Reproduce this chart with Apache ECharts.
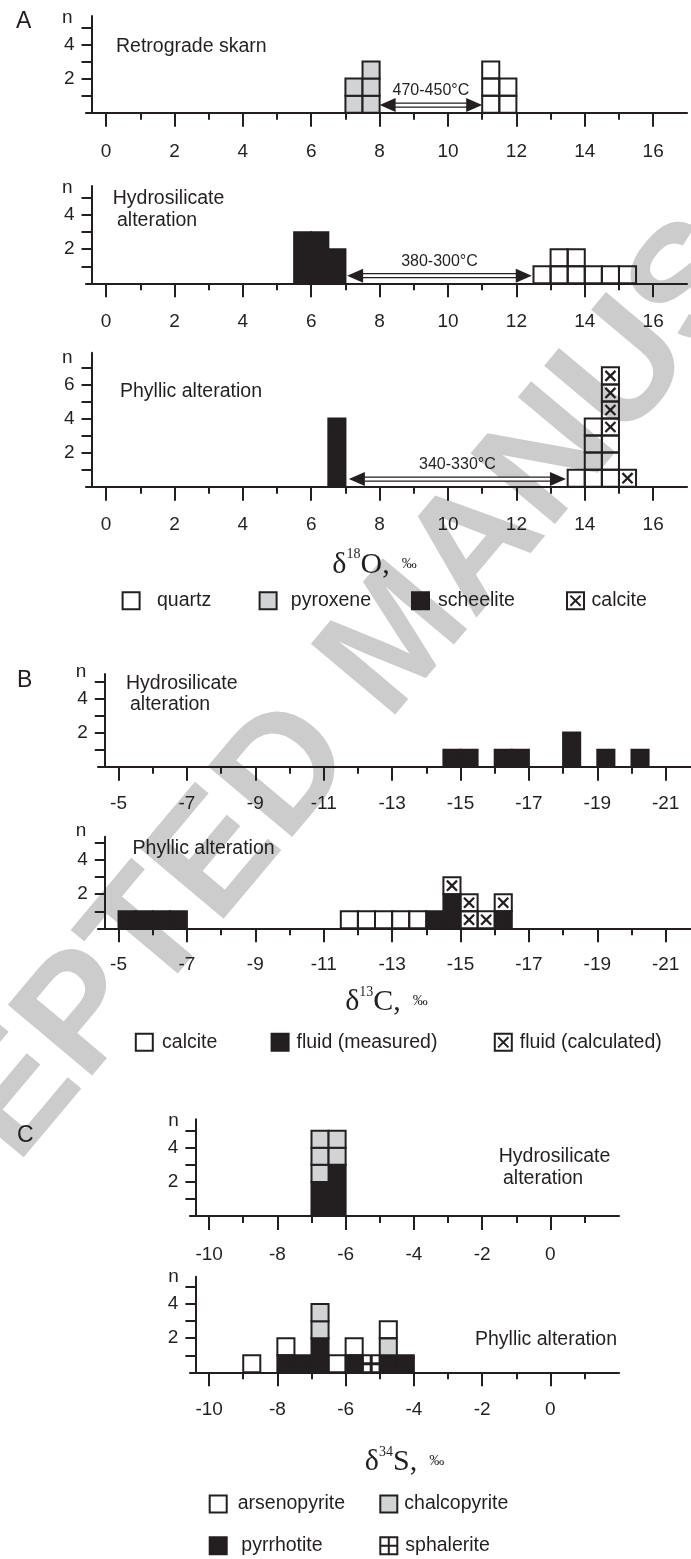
<!DOCTYPE html>
<html><head><meta charset="utf-8">
<script src="https://cdn.jsdelivr.net/npm/echarts@6/dist/echarts.min.js"></script>
<style>html,body{margin:0;padding:0;background:#fff}#c{width:691px;height:1559px}</style>
</head><body><div id="c"></div>
<script>
// ================= DATA =================
// Histogram bins are 0.5 ‰ wide; each item = [bin centre, count]
// ---- A: δ18O ----
const A_major = [0, 2, 4, 6, 8, 10, 12, 14, 16];
const A_minor = [1, 3, 5, 7, 9, 11, 13, 15];
// Retrograde skarn
const A1_pyroxene = [[7.25, 2], [7.75, 3]];
const A1_quartz = [[11.25, 3], [11.75, 2]];
const A1_arrow = [[8, 11]];
const A1_arrowLabel = ['470-450°C'];
// Hydrosilicate alteration
const A2_scheelite = [[5.75, 3], [6.25, 3], [6.75, 2]];
const A2_quartz = [[12.75, 1], [13.25, 2], [13.75, 2], [14.25, 1], [14.75, 1], [15.25, 1]];
const A2_arrow = [[7.05, 12.45]];
const A2_arrowLabel = ['380-300°C'];
// Phyllic alteration
const A3_scheelite = [[6.75, 4]];
const A3_quartz = [[13.75, 1], [14.25, 4], [14.75, 3]];
const A3_calcite = [[14.75, 4], [15.25, 1]];
const A3_arrow = [[7.1, 13.45]];
const A3_arrowLabel = ['340-330°C'];
// ---- B: δ13C ----
const B_major = [-5, -7, -9, -11, -13, -15, -17, -19, -21];
const B_minor = [-6, -8, -10, -12, -14, -16, -18, -20];
const B1_fluidMeasured = [[-14.75, 1], [-15.25, 1], [-16.25, 1], [-16.75, 1], [-18.25, 2], [-19.25, 1], [-20.25, 1]];
const B2_calcite = [[-11.75, 1], [-12.25, 1], [-12.75, 1], [-13.25, 1], [-13.75, 1]];
const B2_fluidMeasured = [[-5.25, 1], [-5.75, 1], [-6.25, 1], [-6.75, 1], [-14.25, 1], [-14.75, 2], [-16.25, 1]];
const B2_fluidCalculated = [[-14.75, 1], [-15.25, 2], [-15.75, 1], [-16.25, 1]];
// ---- C: δ34S ----
const C_major = [-10, -8, -6, -4, -2, 0];
const C_minor = [-9, -7, -5, -3, -1, 1];
const C1_pyrrhotite = [[-6.75, 2], [-6.25, 3]];
const C1_chalcopyrite = [[-6.75, 3], [-6.25, 2]];
const C2_pyrrhotite = [[-7.75, 1], [-7.25, 1], [-6.75, 2], [-5.75, 1], [-4.75, 1], [-4.25, 1]];
const C2_chalcopyrite = [[-6.75, 2], [-4.75, 1]];
const C2_arsenopyrite = [[-8.75, 1], [-7.75, 1], [-6.25, 1], [-5.75, 1], [-4.75, 1]];
const C2_sphalerite = [[-5.25, 1]];
// y tick values / labels
const Y_ticks5 = [1, 2, 3, 4, 5];
const Y_ticks7 = [1, 2, 3, 4, 5, 6, 7];
const Y_labels5 = [2, 4];
const Y_labels7 = [2, 4, 6];

// ================= STYLE / LAYOUT =================
const FONT = "'Liberation Sans', Arial, Helvetica, sans-serif";
const SERIF = "'Liberation Serif', 'Times New Roman', serif";
const INK = '#231f20';
const GRAY = '#d1d3d4';
const PX = 17.05;   // pixels per count
const W = 0.5;      // bin width
const ARROW_Y = 0.45;

const panels = [
  { g: [86, 16, 601, 96.7], xr: [-0.588, 16.99], inv: false, yx: 91.5, major: A_major, minor: A_minor,
    yt: Y_ticks5, yl: Y_labels5, nGap: -2, nPad: 19, margin: 30,
    series: [['pyroxene', A1_pyroxene, 'gray'], ['quartz', A1_quartz, 'white']],
    arrow: [A1_arrow, A1_arrowLabel] },
  { g: [86, 186, 601, 97.3], xr: [-0.588, 16.99], inv: false, yx: 91.5, major: A_major, minor: A_minor,
    yt: Y_ticks5, yl: Y_labels5, nGap: -2, nPad: 19, margin: 29,
    series: [['scheelite', A2_scheelite, 'black'], ['quartz', A2_quartz, 'white']],
    arrow: [A2_arrow, A2_arrowLabel] },
  { g: [86, 352.7, 601, 134], xr: [-0.588, 16.99], inv: false, yx: 91.5, major: A_major, minor: A_minor,
    yt: Y_ticks7, yl: Y_labels7, nGap: -5, nPad: 19, margin: 29,
    series: [['scheelite', A3_scheelite, 'black'], ['quartz', A3_quartz, 'white'], ['calcite', A3_calcite, 'cross']],
    arrow: [A3_arrow, A3_arrowLabel],
    title: { main: 'O,', sup: '18', gap: 61, shift: 24 } },
  { g: [98, 674, 593, 92.7], xr: [-21.74, -4.40], inv: true, yx: 104.8, major: B_major, minor: B_minor,
    yt: Y_ticks5, yl: Y_labels5, nGap: 2, nPad: 18.5, margin: 28,
    series: [['fluid (measured)', B1_fluidMeasured, 'black']] },
  { g: [98, 836.7, 593, 91.6], xr: [-21.74, -4.40], inv: true, yx: 104.8, major: B_major, minor: B_minor,
    yt: Y_ticks5, yl: Y_labels5, nGap: 6, nPad: 18.5, margin: 27,
    series: [['calcite', B2_calcite, 'white'], ['fluid (measured)', B2_fluidMeasured, 'black'], ['fluid (calculated)', B2_fluidCalculated, 'cross']],
    title: { main: 'C,', sup: '13', gap: 57, shift: 16 } },
  { g: [190, 1119.3, 429, 96.7], xr: [-10.56, 2.01], inv: false, yx: 195.4, major: C_major, minor: C_minor,
    yt: Y_ticks5, yl: Y_labels5, nGap: -1, nPad: 16.5, margin: 29,
    series: [['pyrrhotite', C1_pyrrhotite, 'black'], ['chalcopyrite', C1_chalcopyrite, 'gray']] },
  { g: [190, 1276.7, 429, 95.6], xr: [-10.56, 2.01], inv: false, yx: 195.4, major: C_major, minor: C_minor,
    yt: Y_ticks5, yl: Y_labels5, nGap: 0, nPad: 16.5, margin: 28,
    series: [['pyrrhotite', C2_pyrrhotite, 'black'], ['chalcopyrite', C2_chalcopyrite, 'gray'], ['arsenopyrite', C2_arsenopyrite, 'white'], ['sphalerite', C2_sphalerite, 'plus']],
    title: { main: 'S,', sup: '34', gap: 73, shift: 0 } }
];

// text annotations (panel labels and subplot captions)
const annotations = [
  ['A', 16, 22, 23], ['B', 17, 681, 23], ['C', 17, 1136, 23],
  ['Retrograde skarn', 116, 47, 19.5],
  ['Hydrosilicate', 112.7, 199, 19.5], ['alteration', 117, 221, 19.5],
  ['Phyllic alteration', 120, 392, 19.5],
  ['Hydrosilicate', 126, 684, 19.5], ['alteration', 130, 705, 19.5],
  ['Phyllic alteration', 132.6, 848.5, 19.5],
  ['Hydrosilicate', 498.7, 1157, 19.5], ['alteration', 503, 1178.5, 19.5],
  ['Phyllic alteration', 475, 1340, 19.5]
];

// legend entries: name, symbol style, icon left, row centre y, icon-text gap
const legendSpec = [
  ['quartz', 'white', 121.6, 601.7, 17.4], ['pyroxene', 'gray', 258.6, 601.7, 14.2],
  ['scheelite', 'black', 411, 601.7, 9], ['calcite', 'cross', 566, 601.7, 7.6],
  ['calcite', 'white', 134.8, 1043.3, 9.3], ['fluid (measured)', 'black', 270.6, 1043.3, 7.9],
  ['fluid (calculated)', 'cross', 493.8, 1043.3, 8],
  ['arsenopyrite', 'white', 208.7, 1505, 11], ['chalcopyrite', 'gray', 379.3, 1505, 7],
  ['pyrrhotite', 'black', 208.7, 1546.7, 14.6], ['sphalerite', 'plus', 379.3, 1546.7, 8]
];

// ================= BUILD =================
function cellRender(style) {
  return function (params, api) {
    const c = api.value(0), n = api.value(1), b = api.value(2);
    const box = (lo, hi) => {
      const p = api.coord([c - W / 2, hi]), q = api.coord([c + W / 2, lo]);
      return { x: Math.min(p[0], q[0]), y: Math.min(p[1], q[1]), width: Math.abs(q[0] - p[0]), height: Math.abs(q[1] - p[1]) };
    };
    const kids = [];
    if (style === 'black') {
      kids.push({ type: 'rect', shape: box(b, b + n), style: { fill: INK, stroke: INK, lineWidth: 2 } });
    } else {
      for (let i = 0; i < n; i++) {
        const r = box(b + i, b + i + 1);
        kids.push({ type: 'rect', shape: r, style: { fill: style === 'gray' ? GRAY : 'rgba(255,255,255,0)', stroke: INK, lineWidth: 2 } });
        if (style === 'cross') {
          const m = 3.5;
          kids.push({ type: 'line', shape: { x1: r.x + m, y1: r.y + m, x2: r.x + r.width - m, y2: r.y + r.height - m }, style: { stroke: INK, lineWidth: 2.3 } });
          kids.push({ type: 'line', shape: { x1: r.x + r.width - m, y1: r.y + m, x2: r.x + m, y2: r.y + r.height - m }, style: { stroke: INK, lineWidth: 2.3 } });
        } else if (style === 'plus') {
          const cx = r.x + r.width / 2, cy = r.y + r.height / 2;
          kids.push({ type: 'line', shape: { x1: cx, y1: r.y, x2: cx, y2: r.y + r.height }, style: { stroke: INK, lineWidth: 3 } });
          kids.push({ type: 'line', shape: { x1: r.x, y1: cy, x2: r.x + r.width, y2: cy }, style: { stroke: INK, lineWidth: 3 } });
        }
      }
    }
    return { type: 'group', children: kids };
  };
}

function arrowRender(labels) {
  return function (params, api) {
    const p = api.coord([api.value(0), ARROW_Y]), q = api.coord([api.value(1), ARROW_Y]);
    const y = p[1], L = 16, H = 7;
    const a = Math.min(p[0], q[0]), b = Math.max(p[0], q[0]);
    return { type: 'group', children: [
      { type: 'rect', shape: { x: a + L - 2, y: y - 2, width: b - a - 2 * L + 4, height: 4 }, style: { fill: '#fff', stroke: INK, lineWidth: 1.3 } },
      { type: 'polygon', shape: { points: [[a, y], [a + L, y - H], [a + L, y + H]] }, style: { fill: INK } },
      { type: 'polygon', shape: { points: [[b, y], [b - L, y - H], [b - L, y + H]] }, style: { fill: INK } },
      { type: 'text', x: (a + b) / 2, y: y - 14, style: { text: labels[params.dataIndex], fontSize: 16, fontFamily: FONT, fill: INK, align: 'center', verticalAlign: 'middle' } }
    ] };
  };
}

const grids = [], xAxes = [], yAxes = [], series = [];
panels.forEach((P, i) => {
  const [left, top, width, height] = P.g;
  const ymax = height / PX;
  const gi = 2 * i;
  grids.push({ left, top, width, height, outerBoundsMode: 'none', containLabel: false });
  grids.push({ left, top, width, height, outerBoundsMode: 'none', containLabel: false });
  const xMain = {
    type: 'value', gridIndex: gi, min: P.xr[0], max: P.xr[1], inverse: P.inv,
    axisLine: { show: true, onZero: false, lineStyle: { color: INK, width: 2.2 } },
    axisTick: { show: true, customValues: P.major, length: 14, inside: false, lineStyle: { color: INK, width: 2 } },
    axisLabel: { show: true, customValues: P.major, margin: P.margin, fontSize: 19, color: INK, fontFamily: FONT },
    splitLine: { show: false }
  };
  if (P.title) {
    xMain.name = '{d|δ}{s|' + P.title.sup + '}{d|' + P.title.main + '}{p|‰}';
    xMain.nameLocation = 'middle';
    xMain.nameGap = P.title.gap;
    xMain.nameTextStyle = {
      padding: [0, P.title.shift, 0, 0],
      rich: {
        d: { fontFamily: SERIF, fontSize: 30, color: INK, verticalAlign: 'bottom', lineHeight: 32 },
        s: { fontFamily: SERIF, fontSize: 14, color: INK, verticalAlign: 'top', lineHeight: 32 },
        p: { fontFamily: SERIF, fontSize: 15, color: INK, verticalAlign: 'middle', padding: [0, 0, 0, 12], lineHeight: 32 }
      }
    };
  }
  xAxes.push(xMain);
  xAxes.push({
    type: 'value', gridIndex: gi + 1, min: P.xr[0], max: P.xr[1], inverse: P.inv,
    axisLine: { show: false, onZero: false },
    axisTick: { show: true, customValues: P.minor, length: 7, inside: false, lineStyle: { color: INK, width: 2 } },
    axisLabel: { show: false }, splitLine: { show: false }
  });
  yAxes.push({
    type: 'value', gridIndex: gi, min: 0, max: ymax, offset: -(P.yx - left),
    name: 'n', nameLocation: 'end', nameGap: P.nGap,
    nameTextStyle: { fontSize: 19, fontFamily: FONT, color: INK, align: 'right', verticalAlign: 'middle', padding: [0, P.nPad, 0, 0] },
    axisLine: { show: true, onZero: false, lineStyle: { color: INK, width: 2 } },
    axisTick: { show: true, customValues: P.yt, length: 10, inside: false, lineStyle: { color: INK, width: 2 } },
    axisLabel: { show: true, customValues: P.yl, margin: 17, fontSize: 19, color: INK, fontFamily: FONT },
    splitLine: { show: false }
  });
  yAxes.push({ type: 'value', gridIndex: gi + 1, min: 0, max: ymax, show: false, axisLine: { onZero: false }, splitLine: { show: false } });

  // stacked cells
  const base = {};
  P.series.forEach(([name, data, style]) => {
    const items = data.map(([c, n]) => {
      const b = base[c] || 0;
      base[c] = b + n;
      return [c, n, b];
    });
    series.push({
      type: 'custom', name, xAxisIndex: gi, yAxisIndex: gi, silent: true, z: 3,
      itemStyle: { color: style === 'black' ? INK : style === 'gray' ? GRAY : '#fff' },
      encode: { x: 0, y: 1 },
      data: items, renderItem: cellRender(style)
    });
  });
  if (P.arrow) {
    series.push({
      type: 'custom', name: 'temperature', xAxisIndex: gi, yAxisIndex: gi, silent: true, z: 3,
      encode: { x: [0, 1] }, data: P.arrow[0], renderItem: arrowRender(P.arrow[1])
    });
  }
});

const ICONS = {
  white: 'rect', gray: 'rect', black: 'rect',
  cross: 'path://M0,0H20V20H0Z M4,4L16,16 M16,4L4,16',
  plus: 'path://M0,0H20V20H0Z M10,0V20 M0,10H20'
};
const legends = legendSpec.map(([name, style, left, cy, gap]) => ({
  left: left, top: cy - 11, padding: 0, itemWidth: 17, itemHeight: 17, selectedMode: false,
  data: [{ name, icon: ICONS[style], itemStyle: { color: style === 'black' ? INK : style === 'gray' ? GRAY : '#fff', borderColor: INK, borderWidth: 2 } }],
  textStyle: { fontSize: 19.5, fontFamily: FONT, color: INK, padding: [0, 0, 0, gap - 5] }
}));

const graphics = [
  { type: 'text', x: 400, y: 640, rotation: 50 * Math.PI / 180, z: -100, silent: true,
    style: { text: 'ACCEPTED MANUSCRIPT', fontSize: 160, fontWeight: 'bold', fontFamily: FONT, fill: '#cccccc', align: 'center', verticalAlign: 'middle' } }
].concat(annotations.map(([t, x, y, fs]) => ({
  type: 'text', x, y, silent: true,
  style: { text: t, fontSize: fs, fontFamily: FONT, fill: INK, align: 'left', verticalAlign: 'middle' }
})));

const chart = echarts.init(document.getElementById('c'), null, { renderer: 'canvas' });
chart.setOption({
  backgroundColor: '#fff',
  animation: false,
  textStyle: { fontFamily: FONT },
  grid: grids, xAxis: xAxes, yAxis: yAxes,
  legend: legends,
  graphic: graphics,
  series
});
</script></body></html>
